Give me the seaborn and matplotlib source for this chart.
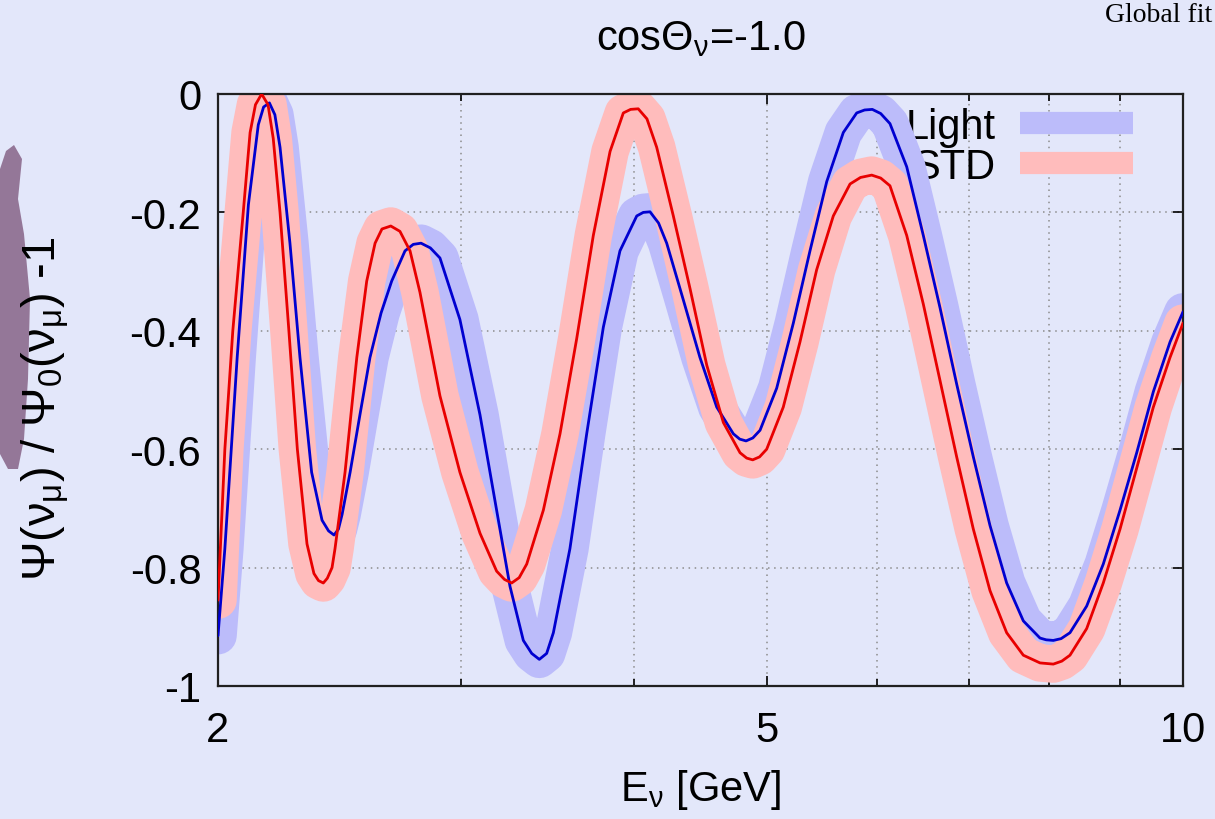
import pandas as pd
import matplotlib
matplotlib.use("Agg")
import matplotlib.pyplot as plt
from matplotlib.lines import Line2D
from matplotlib.patches import Polygon
from matplotlib.transforms import Affine2D
from matplotlib.ticker import FixedLocator, FixedFormatter, LogLocator, NullFormatter
import seaborn as sns

# Values (E in GeV, ratio Psi/Psi0 - 1)
energy_light = [2.000, 2.023, 2.065, 2.104, 2.139, 2.158, 2.179, 2.199, 2.218, 2.255,
                2.293, 2.338, 2.379, 2.405, 2.427, 2.445, 2.460, 2.493, 2.535, 2.577,
                2.625, 2.672, 2.732, 2.770, 2.806, 2.850, 2.896, 2.994, 3.096, 3.183,
                3.255, 3.328, 3.375, 3.418, 3.460, 3.499, 3.597, 3.699, 3.803, 3.910,
                4.021, 4.065, 4.111, 4.170, 4.227, 4.346, 4.468, 4.595, 4.724, 4.775,
                4.825, 4.880, 4.939, 5.078, 5.221, 5.368, 5.520, 5.675, 5.803, 5.880,
                5.956, 6.040, 6.134, 6.308, 6.485, 6.668, 6.856, 7.049, 7.248, 7.452,
                7.662, 7.878, 7.960, 8.055, 8.160, 8.282, 8.516, 8.755, 9.003, 9.257,
                9.517, 9.786, 10.0]
ratio_light = [-0.915, -0.768, -0.445, -0.187, -0.052, -0.022, -0.015, -0.035, -0.090, -0.252,
               -0.445, -0.639, -0.720, -0.738, -0.745, -0.735, -0.710, -0.639, -0.540, -0.445,
               -0.370, -0.316, -0.265, -0.254, -0.252, -0.260, -0.277, -0.381, -0.542, -0.703,
               -0.832, -0.923, -0.945, -0.955, -0.945, -0.910, -0.768, -0.574, -0.394, -0.265,
               -0.206, -0.200, -0.199, -0.218, -0.252, -0.348, -0.445, -0.529, -0.574, -0.583,
               -0.586, -0.581, -0.568, -0.497, -0.387, -0.265, -0.148, -0.065, -0.032, -0.027,
               -0.026, -0.033, -0.050, -0.123, -0.239, -0.361, -0.490, -0.613, -0.729, -0.826,
               -0.890, -0.919, -0.922, -0.923, -0.920, -0.910, -0.865, -0.794, -0.703, -0.606,
               -0.503, -0.419, -0.368]

energy_std = [2.000, 2.023, 2.050, 2.086, 2.110, 2.129, 2.151, 2.174, 2.193, 2.218,
              2.251, 2.283, 2.320, 2.347, 2.365, 2.384, 2.400, 2.419, 2.431, 2.472,
              2.521, 2.563, 2.599, 2.629, 2.668, 2.709, 2.755, 2.801, 2.896, 2.994,
              3.096, 3.183, 3.225, 3.264, 3.305, 3.347, 3.441, 3.538, 3.638, 3.740,
              3.846, 3.932, 3.980, 4.031, 4.090, 4.157, 4.274, 4.395, 4.519, 4.646,
              4.777, 4.830, 4.879, 4.935, 4.994, 5.134, 5.279, 5.428, 5.581, 5.739,
              5.840, 5.950, 6.040, 6.134, 6.308, 6.485, 6.668, 6.856, 7.049, 7.248,
              7.452, 7.662, 7.878, 8.055, 8.170, 8.282, 8.516, 8.755, 9.003, 9.257,
              9.517, 9.786, 10.0]
ratio_std = [-0.855, -0.600, -0.400, -0.200, -0.065, -0.018, 0.000, -0.018, -0.075, -0.200,
             -0.400, -0.600, -0.760, -0.810, -0.822, -0.826, -0.818, -0.800, -0.768, -0.639,
             -0.445, -0.316, -0.252, -0.228, -0.223, -0.232, -0.265, -0.335, -0.510, -0.639,
             -0.742, -0.806, -0.820, -0.826, -0.817, -0.794, -0.703, -0.574, -0.413, -0.239,
             -0.097, -0.032, -0.026, -0.025, -0.042, -0.090, -0.206, -0.329, -0.458, -0.555,
             -0.606, -0.615, -0.618, -0.613, -0.600, -0.529, -0.419, -0.297, -0.206, -0.152,
             -0.141, -0.137, -0.142, -0.155, -0.239, -0.355, -0.484, -0.613, -0.735, -0.839,
             -0.910, -0.948, -0.961, -0.963, -0.958, -0.948, -0.903, -0.826, -0.735, -0.632,
             -0.529, -0.445, -0.387]

x_ticks = [2, 5, 10]
x_tick_labels = ["2", "5", "10"]
y_ticks = [0, -0.2, -0.4, -0.6, -0.8, -1]
y_tick_labels = ["0", "-0.2", "-0.4", "-0.6", "-0.8", "-1"]
series_labels = ["Light", "STD"]

BG = "#e3e7fa"
BAND_LIGHT = "#bcbcfa"
BAND_STD = "#ffbcbc"
LINE_LIGHT = "#0000d0"
LINE_STD = "#e80000"

sns.set_theme(style="ticks")
plt.rcParams["font.family"] = ["Liberation Sans", "DejaVu Sans"]
plt.rcParams["mathtext.fontset"] = "custom"
plt.rcParams["mathtext.rm"] = "Liberation Sans"
plt.rcParams["mathtext.it"] = "Liberation Sans"
plt.rcParams["mathtext.bf"] = "Liberation Sans:bold"
plt.rcParams["axes.unicode_minus"] = False
for key in ["text.color", "axes.labelcolor", "xtick.color", "ytick.color"]:
    plt.rcParams[key] = "black"

fig = plt.figure(figsize=(12.15, 8.2), dpi=100, facecolor=BG)
ax = fig.add_axes([218 / 1215, 1 - 687 / 820, 965 / 1215, 592 / 820])
ax.set_facecolor(BG)
ax.set_xscale("log")

df_light = pd.DataFrame({"E": energy_light, "ratio": ratio_light})
df_std = pd.DataFrame({"E": energy_std, "ratio": ratio_std})

# wide uncertainty bands first, then the central curves
sns.lineplot(data=df_light, x="E", y="ratio", ax=ax, color=BAND_LIGHT, linewidth=27,
             sort=False, estimator=None, solid_joinstyle="round", zorder=2)
sns.lineplot(data=df_std, x="E", y="ratio", ax=ax, color=BAND_STD, linewidth=27,
             sort=False, estimator=None, solid_joinstyle="round", zorder=2.1)
sns.lineplot(data=df_light, x="E", y="ratio", ax=ax, color=LINE_LIGHT, linewidth=2.0,
             sort=False, estimator=None, solid_joinstyle="round", zorder=3)
sns.lineplot(data=df_std, x="E", y="ratio", ax=ax, color=LINE_STD, linewidth=2.0,
             sort=False, estimator=None, solid_joinstyle="round", zorder=3.1)

ax.set_xlim(2, 10)
ax.set_ylim(-1, 0)

ax.xaxis.set_major_locator(FixedLocator(x_ticks))
ax.xaxis.set_major_formatter(FixedFormatter(x_tick_labels))
ax.xaxis.set_minor_locator(LogLocator(base=10, subs=range(2, 10)))
ax.xaxis.set_minor_formatter(NullFormatter())
ax.yaxis.set_major_locator(FixedLocator(y_ticks))
ax.yaxis.set_major_formatter(FixedFormatter(y_tick_labels))

ax.tick_params(which="both", direction="in", top=True, right=True, colors="black",
               width=1.2, labelsize=30)
ax.tick_params(which="major", length=7)
ax.tick_params(which="minor", length=5)
ax.tick_params(axis="y", pad=12)
ax.tick_params(axis="x", pad=17)

ax.grid(True, which="both", axis="x", linestyle=(0, (1, 3)), color="#8c8c8c", linewidth=1.1)
ax.grid(True, which="major", axis="y", linestyle=(0, (1, 3)), color="#8c8c8c", linewidth=1.1)
ax.set_axisbelow(True)
for sp in ax.spines.values():
    sp.set_color("#202020")
    sp.set_linewidth(1.6)

ax.set_title(r"cos$\Theta_\nu$=-1.0", fontsize=30, pad=32)
ax.set_xlabel(r"E$_\nu$ [GeV]", fontsize=30)
ax.set_ylabel(r"$\Psi(\nu_\mu)$ / $\Psi_0(\nu_\mu)$ -1", fontsize=34)
ax.xaxis.set_label_coords(0.5, -0.137)
ax.yaxis.set_label_coords(-0.152, 0.47)

handles = [Line2D([], [], color=BAND_LIGHT, linewidth=16, solid_capstyle="butt"),
           Line2D([], [], color=BAND_STD, linewidth=16, solid_capstyle="butt")]
leg = ax.legend(handles=handles, labels=series_labels, loc="upper right",
                bbox_to_anchor=(0.948, 0.978), markerfirst=False, frameon=False,
                fontsize=30, handlelength=2.7, handletextpad=0.6, labelspacing=0.0,
                borderpad=0, borderaxespad=0)
leg.set_zorder(1.5)

# header text of the neighbouring panel, partly shown at the top-right corner
fig.text(1212 / 1215, 1 - 3 / 820, "Global fit", family=["Liberation Serif", "DejaVu Serif"],
         fontsize=20, va="top", ha="right")

# stray purple fragment at the left border of the reference image, kept behind the label
px_to_fig = Affine2D().scale(1 / 1215, -1 / 820).translate(0, 1) + fig.transFigure
blob = Polygon([(0, 170), (6, 152), (14, 146), (22, 160), (18, 200), (24, 235),
                (30, 300), (28, 380), (24, 440), (18, 470), (8, 470), (0, 455)],
               closed=True, facecolor="#8c6b8e", edgecolor="none", alpha=0.9,
               transform=px_to_fig, zorder=-1)
fig.patches.append(blob)

fig.savefig("out.png", dpi=100, facecolor=BG)
